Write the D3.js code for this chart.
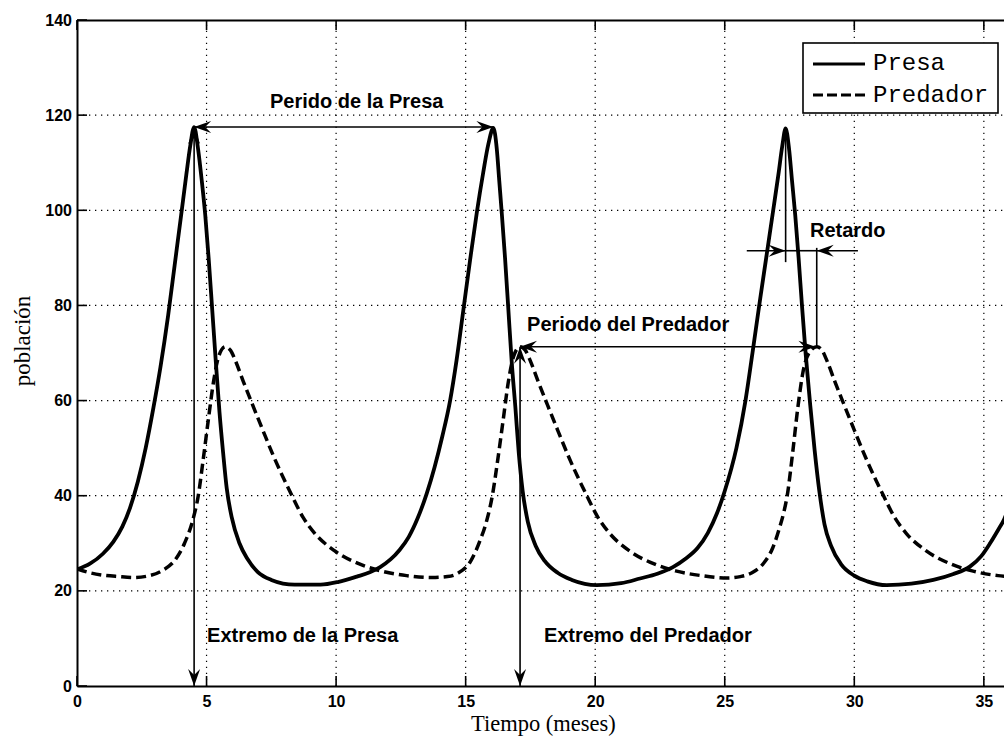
<!DOCTYPE html>
<html>
<head>
<meta charset="utf-8">
<script src="https://cdn.jsdelivr.net/npm/d3@7"></script>
<style>
  body { margin: 0; background: #fff; }
  svg { display: block; }
</style>
</head>
<body>
<svg id="chart" width="1004" height="740"></svg>
<script>
// axis ticks
const xTicks = [0, 5, 10, 15, 20, 25, 30, 35]
const yTicks = [0, 20, 40, 60, 80, 100, 120, 140]

// Presa (solid)
const tPresa = [0, 0.5, 1.0, 1.4, 1.75, 2.05, 2.35, 2.65, 2.95, 3.22, 3.52, 3.77, 4.02, 4.22, 4.37, 4.52,
  4.67, 4.82, 4.95, 5.08, 5.22, 5.36, 5.5, 5.64, 5.78, 5.97, 6.27, 6.57, 6.97, 7.5, 8.4, 9.4, 10.1, 10.8,
  11.3, 11.7, 12.1, 12.45, 12.8, 13.15, 13.5, 13.8, 14.1, 14.4, 14.65, 14.91, 15.17, 15.43, 15.68, 15.88, 16.07,
  16.2, 16.3, 16.4, 16.52, 16.65, 16.78, 16.92, 17.05, 17.2, 17.4, 17.7, 18.05, 18.55, 19.1, 20.06, 21.0,
  21.73, 22.4, 23.0, 23.5, 23.95, 24.35, 24.7, 25.0, 25.45, 25.8, 26.07, 26.33, 26.6, 26.87, 27.07, 27.22, 27.35,
  27.48, 27.6, 27.72, 27.85, 27.98, 28.12, 28.3, 28.47, 28.65, 28.85, 29.1, 29.5, 30.0, 30.5, 31.25, 32.2,
  33.05, 33.8, 34.46, 34.9, 35.24, 35.55, 35.78, 36.0]
const presa = [24.5, 25.7, 27.8, 30.3, 33.5, 37.5, 43, 50, 58.5, 67, 78, 88.5, 99, 107.5, 113.5, 117.5,
  113, 106, 99, 90, 79, 68, 57.5, 49, 41.5, 35.5, 30, 26.8, 24, 22.3, 21.3, 21.3, 21.9, 23.0,
  23.9, 25.0, 26.6, 28.6, 31.3, 35.3, 40.5, 46, 52.5, 60, 68.5, 79, 89.5, 99.5, 108, 114, 117.3,
  113, 106, 99, 90, 79, 68, 58.5, 49, 41, 34.5, 29.5, 26.3, 23.8, 22.3, 21.2, 21.6,
  22.6, 23.6, 25.0, 26.8, 29.0, 32.2, 36.3, 41, 50, 60, 70, 80, 90, 100, 107.5, 113.5, 117.2,
  113, 106, 99, 90, 80, 70, 59, 49.5, 41, 34, 29.5, 25.5, 23.2, 22, 21.2, 21.5,
  22.3, 23.5, 25.1, 27.3, 30, 32.8, 35, 38]

// Predador (dashed)
const tPredador = [0, 0.5, 1.0, 1.6, 2.2, 2.8, 3.3, 3.8, 4.15, 4.45, 4.68, 4.88, 5.07, 5.27, 5.47, 5.72,
  5.92, 6.12, 6.42, 6.77, 7.17, 7.57, 8.27, 8.72, 9.19, 9.92, 10.92, 11.72, 12.72, 13.7, 14.3, 14.7, 15.2,
  15.55, 15.8, 16.03, 16.25, 16.45, 16.65, 16.85, 17.1,
  17.3, 17.5, 17.8, 18.15, 18.55, 18.95, 19.65, 20.1, 20.57, 21.3, 22.3, 23.1, 24.1, 25.1, 25.6, 26.05,
  26.5, 26.85, 27.1, 27.3, 27.41, 27.62, 27.82, 28.02, 28.25, 28.55,
  28.75, 28.95, 29.25, 29.6, 30.0, 30.4, 31.1, 31.55, 32.02, 32.75, 33.75, 34.55, 35.55, 36.0]
const predador = [24.6, 23.8, 23.3, 23.0, 22.8, 23.2, 24.3, 26.6, 30, 34.5, 40, 48, 56, 64, 69.3, 71.3,
  70.6, 68.3, 64, 59.2, 53.8, 48.5, 40.3, 35.5, 32, 28.5, 25.6, 24.2, 23.2, 22.8, 23.0, 23.7, 26.3,
  30.5, 34.5, 40, 48, 56, 64, 69.3, 71.3,
  70.6, 68.3, 64, 59.2, 53.8, 48.5, 40.3, 35.5, 32, 28.5, 25.6, 24.2, 23.2, 22.7, 23.0, 23.8,
  25.8, 29, 33, 37, 40, 49, 58.5, 66, 70, 71.3,
  70.6, 68.3, 64, 59.2, 53.8, 48.5, 40.3, 35.5, 32, 28.5, 25.6, 24.2, 23.2, 23.0]

const legendNames = ['Presa', 'Predador']

// annotations, in data units
const arrows = [
  { t0: 4.52, v0: 117.5, t1: 16.07, v1: 117.5, start: true, end: true },   // periodo presa
  { t0: 4.52, v0: 117.5, t1: 4.52, v1: 0, start: true, end: true },        // extremo presa
  { t0: 17.1, v0: 71.3, t1: 28.5, v1: 71.3, start: true, end: true },      // periodo predador
  { t0: 17.1, v0: 71.3, t1: 17.1, v1: 0, start: true, end: true },         // extremo predador
  { t0: 25.85, v0: 91.5, t1: 27.35, v1: 91.5, start: false, end: true },   // retardo
  { t0: 30.14, v0: 91.5, t1: 28.55, v1: 91.5, start: false, end: true }
]
const marks = [
  { t0: 27.35, v0: 117.2, t1: 27.35, v1: 89.1 },
  { t0: 28.55, v0: 92.1, t1: 28.55, v1: 71.3 },
  { t0: 27.35, v0: 91.5, t1: 28.55, v1: 91.5 }
]
const labels = [
  { text: 'Perido de la Presa', t: 7.45, v: 121.5 },
  { text: 'Extremo de la Presa', t: 5.02, v: 9.25 },
  { text: 'Periodo del Predador', t: 17.37, v: 74.6 },
  { text: 'Extremo del Predador', t: 18.02, v: 9.25 },
  { text: 'Retardo', t: 28.29, v: 94.4 }
]

const margin = { left: 77, top: 20 }
const plotW = 36 * 25.91
const plotH = 666

const svg = d3.select('#chart')

const x = d3.scaleLinear().domain([0, 36]).range([margin.left, margin.left + plotW])
const y = d3.scaleLinear().domain([0, 140]).range([margin.top + plotH, margin.top])

svg.append('defs').append('clipPath').attr('id', 'plot-clip')
  .append('rect')
  .attr('x', x(0)).attr('y', y(140))
  .attr('width', plotW).attr('height', plotH)

// dotted grid
const grid = svg.append('g').attr('stroke', '#000').attr('stroke-width', 1.2)
  .attr('stroke-dasharray', '1.3,4.7')
grid.selectAll('line.gx').data(xTicks.filter((d) => d > 0)).enter()
  .append('line').attr('class', 'gx')
  .attr('x1', (d) => x(d)).attr('x2', (d) => x(d))
  .attr('y1', y(0)).attr('y2', y(140))
grid.selectAll('line.gy').data(yTicks.filter((d) => d > 0 && d < 140)).enter()
  .append('line').attr('class', 'gy')
  .attr('y1', (d) => y(d)).attr('y2', (d) => y(d))
  .attr('x1', x(0)).attr('x2', x(36))

// curves
const line = d3.line()
  .x((d) => x(d[0]))
  .y((d) => y(d[1]))
  .curve(d3.curveMonotoneX)

const curves = svg.append('g').attr('clip-path', 'url(#plot-clip)')
curves.append('path')
  .datum(d3.zip(tPredador, predador))
  .attr('fill', 'none').attr('stroke', '#000').attr('stroke-width', 3.5)
  .attr('stroke-dasharray', '10,5')
  .attr('d', line)
curves.append('path')
  .datum(d3.zip(tPresa, presa))
  .attr('fill', 'none').attr('stroke', '#000').attr('stroke-width', 3.8)
  .attr('stroke-linejoin', 'round')
  .attr('d', line)

// arrow head with a notch, tip at (px,py)
function head(g, px, py, angle) {
  const L = 17, W = 6, N = 11
  g.append('path')
    .attr('d', `M0,0L${-L},${-W}L${-N},0L${-L},${W}Z`)
    .attr('transform', `translate(${px},${py}) rotate(${angle})`)
    .attr('fill', '#000')
}

const ann = svg.append('g')
ann.selectAll('line.arr').data(arrows.concat(marks)).enter()
  .append('line').attr('class', 'arr')
  .attr('x1', (d) => x(d.t0)).attr('y1', (d) => y(d.v0))
  .attr('x2', (d) => x(d.t1)).attr('y2', (d) => y(d.v1))
  .attr('stroke', '#000').attr('stroke-width', 1.6)

arrows.forEach((d) => {
  const x0 = x(d.t0), y0 = y(d.v0), x1 = x(d.t1), y1 = y(d.v1)
  const a = Math.atan2(y1 - y0, x1 - x0) * 180 / Math.PI
  if (d.end) head(ann, x1, y1, a)
  if (d.start) head(ann, x0, y0, a + 180)
})

ann.selectAll('text').data(labels).enter()
  .append('text')
  .attr('x', (d) => x(d.t)).attr('y', (d) => y(d.v))
  .attr('font-family', 'Arial, "Liberation Sans", Helvetica, sans-serif')
  .attr('font-size', 20)
  .attr('font-weight', 'bold')
  .attr('fill', '#000')
  .text((d) => d.text)

// axes (ticks inside, MATLAB style)
const axisFont = 'Arial, "Liberation Sans", Helvetica, sans-serif'
const axB = svg.append('g').attr('transform', `translate(0,${y(0)})`)
  .call(d3.axisBottom(x).tickValues(xTicks).tickSize(0).tickPadding(10))
const axT = svg.append('g').attr('transform', `translate(0,${y(140)})`)
  .call(d3.axisTop(x).tickValues(xTicks).tickSize(0).tickFormat(''))
const axL = svg.append('g').attr('transform', `translate(${x(0)},0)`)
  .call(d3.axisLeft(y).tickValues(yTicks).tickSize(0).tickPadding(5))

;[axB, axT, axL].forEach((g) => {
  g.select('.domain').attr('stroke', '#000').attr('stroke-width', 2)
  g.selectAll('text').attr('font-family', axisFont).attr('font-size', 16)
    .attr('font-weight', 'bold').attr('fill', '#000')
})

// inward ticks
const tk = svg.append('g').attr('stroke', '#000').attr('stroke-width', 1.6)
tk.selectAll('line.tb').data(xTicks).enter().append('line')
  .attr('x1', (d) => x(d)).attr('x2', (d) => x(d))
  .attr('y1', y(0)).attr('y2', y(0) - 10)
tk.selectAll('line.tt').data(xTicks).enter().append('line')
  .attr('x1', (d) => x(d)).attr('x2', (d) => x(d))
  .attr('y1', y(140)).attr('y2', y(140) + 10)
tk.selectAll('line.tl').data(yTicks).enter().append('line')
  .attr('x1', x(0)).attr('x2', x(0) + 10)
  .attr('y1', (d) => y(d)).attr('y2', (d) => y(d))

// axis titles
svg.append('text')
  .attr('x', (x(0) + x(36)) / 2).attr('y', 731)
  .attr('text-anchor', 'middle')
  .attr('font-family', '"Times New Roman", "Liberation Serif", serif')
  .attr('font-size', 22.5)
  .text('Tiempo (meses)')

svg.append('text')
  .attr('transform', `translate(30,${(y(0) + y(140)) / 2 - 12}) rotate(-90)`)
  .attr('text-anchor', 'middle')
  .attr('font-family', '"Times New Roman", "Liberation Serif", serif')
  .attr('font-size', 23)
  .text('población')

// legend
const leg = svg.append('g').attr('transform', 'translate(803,43)')
leg.append('rect').attr('width', 195).attr('height', 70)
  .attr('fill', '#fff').attr('stroke', '#000').attr('stroke-width', 1.6)
leg.selectAll('line').data(legendNames).enter().append('line')
  .attr('x1', 10).attr('x2', 62)
  .attr('y1', (d, i) => 21 + i * 31).attr('y2', (d, i) => 21 + i * 31)
  .attr('stroke', '#000').attr('stroke-width', 3.2)
  .attr('stroke-dasharray', (d, i) => (i === 1 ? '10,4' : null))
leg.selectAll('text').data(legendNames).enter().append('text')
  .attr('x', 70).attr('y', (d, i) => 27 + i * 31.5)
  .attr('font-family', '"Courier New", "Liberation Mono", monospace')
  .attr('font-size', 24)
  .text((d) => d)
</script>
</body>
</html>
